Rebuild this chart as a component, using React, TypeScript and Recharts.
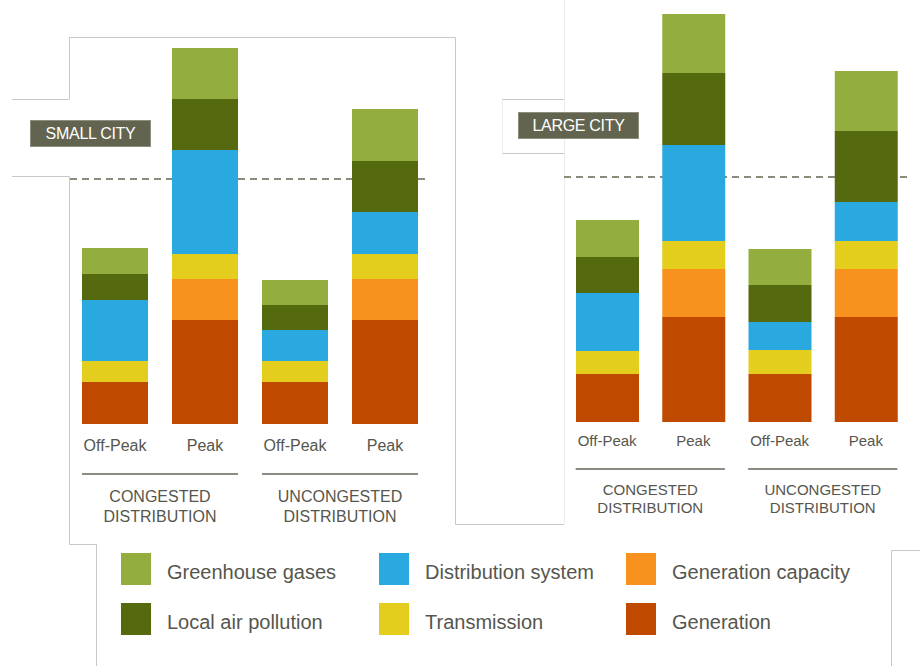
import React from "react";
import { BarChart, Bar, XAxis, YAxis, ReferenceLine } from "recharts";

// categories
const periods = ["Off-Peak", "Peak", "Off-Peak", "Peak"];
const groups = ["CONGESTED", "CONGESTED", "UNCONGESTED", "UNCONGESTED"];

// series (stack order, bottom to top)
const seriesKeys = ["generation", "capacity", "transmission", "distribution", "air", "ghg"];
const seriesNames = [
  "Generation",
  "Generation capacity",
  "Transmission",
  "Distribution system",
  "Local air pollution",
  "Greenhouse gases",
];
const seriesColors = ["#c04900", "#f7921e", "#e3cd1d", "#2aa8e0", "#55690f", "#93ae3f"];

// small city values
const smallGeneration = [4.2, 10.4, 4.2, 10.4];
const smallCapacity = [0, 4.1, 0, 4.1];
const smallTransmission = [2.1, 2.5, 2.1, 2.5];
const smallDistribution = [6.1, 10.4, 3.1, 4.2];
const smallAir = [2.6, 5.1, 2.5, 5.1];
const smallGhg = [2.6, 5.1, 2.5, 5.2];

// large city values
const largeGeneration = [4.8, 10.5, 4.8, 10.5];
const largeCapacity = [0, 4.8, 0, 4.8];
const largeTransmission = [2.3, 2.8, 2.4, 2.8];
const largeDistribution = [5.8, 9.6, 2.8, 3.9];
const largeAir = [3.6, 7.2, 3.7, 7.1];
const largeGhg = [3.7, 5.9, 3.6, 6.0];

const threshold = 24.5;

function buildRows(cols: number[][]) {
  return periods.map((p, i) => {
    const row: any = { period: p, group: groups[i] };
    seriesKeys.forEach((k, j) => (row[k] = cols[j][i]));
    return row;
  });
}

const smallData = buildRows([smallGeneration, smallCapacity, smallTransmission, smallDistribution, smallAir, smallGhg]);
const largeData = buildRows([largeGeneration, largeCapacity, largeTransmission, largeDistribution, largeAir, largeGhg]);

const textColor = "#56564e";

function makeTick(band: number, barW: number, fs: number, off: number[]) {
  return (props: any) => {
    const { x, y, payload, index } = props;
    const i = payload?.index ?? index;
    return (
      <g>
        <text x={x} y={y + off[0]} textAnchor="middle" fontSize={fs} fill={textColor}>
          {payload.value}
        </text>
        {i % 2 === 0 && (
          <g>
            <line
              x1={x - barW / 2}
              x2={x + band + barW / 2}
              y1={y + off[1]}
              y2={y + off[1]}
              stroke="#66665c"
              strokeWidth={1.6}
            />
            <text x={x + band / 2} y={y + off[2]} textAnchor="middle" fontSize={fs} fill={textColor}>
              {groups[i]}
            </text>
            <text x={x + band / 2} y={y + off[3]} textAnchor="middle" fontSize={fs} fill={textColor}>
              DISTRIBUTION
            </text>
          </g>
        )}
      </g>
    );
  };
}

function CityChart({ data, width, barW, fs, off, left, top }: any) {
  const band = width / data.length;
  const margin = { top: 0, right: 0, bottom: 0, left: 0 };
  return (
    <>
      {/* dashed threshold sits behind the bars */}
      <div style={{ position: "absolute", left, top }}>
        <BarChart width={width} height={540} data={data} margin={margin} barSize={barW}>
          <XAxis dataKey="period" height={120} axisLine={false} tickLine={false} tick={false} />
          <YAxis hide domain={[0, 42]} />
          <ReferenceLine y={threshold} stroke="#8b8b7c" strokeWidth={2} strokeDasharray="7 5" />
          <Bar dataKey="generation" fill="none" isAnimationActive={false} />
        </BarChart>
      </div>
      <div style={{ position: "absolute", left, top }}>
        <BarChart width={width} height={540} data={data} margin={margin} barSize={barW}>
          <XAxis
            dataKey="period"
            height={120}
            axisLine={false}
            tickLine={false}
            tickSize={0}
            tickMargin={0}
            interval={0}
            tick={makeTick(band, barW, fs, off)}
          />
          <YAxis hide domain={[0, 42]} />
          {seriesKeys.map((k, j) => (
            <Bar key={k} dataKey={k} name={seriesNames[j]} stackId="a" fill={seriesColors[j]} isAnimationActive={false} />
          ))}
        </BarChart>
      </div>
    </>
  );
}

const legendOrder = [5, 3, 1, 4, 2, 0];
const legendX = [121, 379, 626];
const legendY = [553, 603];

function CityTag({ label, left, top, w, h }: any) {
  return (
    <div
      style={{
        position: "absolute",
        left,
        top,
        width: w,
        height: h,
        background: "#63644f",
        border: "1px solid #8d8e80",
        boxSizing: "border-box",
        color: "#fff",
        fontSize: 16,
        letterSpacing: -0.3,
        display: "flex",
        alignItems: "center",
        justifyContent: "center",
      }}
    >
      {label}
    </div>
  );
}

export default function App() {
  return (
    <div
      style={{
        position: "absolute",
        left: 0,
        top: 0,
        width: 920,
        height: 666,
        overflow: "hidden",
        background: "#fff",
        fontFamily: "'Liberation Sans', Arial, sans-serif",
      }}
    >
      <svg width={920} height={666} style={{ position: "absolute", left: 0, top: 0 }}>
        <g stroke="#c8c8c8" strokeWidth={1} fill="none">
          <polyline points="12,99.5 69.5,99.5 69.5,37.5 455.5,37.5 455.5,524.5 564,524.5" />
          <polyline points="12,176.5 69.5,176.5 69.5,544.5 96.5,544.5 96.5,666" />
          <line x1={502} y1={99.5} x2={564} y2={99.5} />
          <line x1={502} y1={153.5} x2={564} y2={153.5} />
          <polyline points="891.5,666 891.5,550.5 920,550.5" />
        </g>
        <g stroke="#ececec" strokeWidth={1}>
          <line x1={564.5} y1={0} x2={564.5} y2={524} />
          <line x1={502.5} y1={99.5} x2={502.5} y2={153.5} />
        </g>
      </svg>

      <CityChart data={smallData} width={360} barW={66} fs={16} off={[26.5, 50, 78, 98]} left={70} top={4} />
      <CityChart data={largeData} width={345} barW={63} fs={15} off={[24.2, 47, 72.5, 91.2]} left={563.75} top={1.5} />

      <CityTag label="SMALL CITY" left={30} top={120} w={121} h={27} />
      <CityTag label="LARGE CITY" left={518} top={112} w={121} h={27} />

      {legendOrder.map((s, n) => {
        const col = n % 3;
        const row = Math.floor(n / 3);
        return (
          <div key={s}>
            <div
              style={{
                position: "absolute",
                left: legendX[col],
                top: legendY[row],
                width: 30,
                height: 32,
                background: seriesColors[s],
              }}
            />
            <div
              style={{
                position: "absolute",
                left: legendX[col] + 46,
                top: legendY[row] + 7,
                height: 24,
                lineHeight: "24px",
                fontSize: 20,
                color: textColor,
                whiteSpace: "nowrap",
              }}
            >
              {seriesNames[s]}
            </div>
          </div>
        );
      })}
    </div>
  );
}
